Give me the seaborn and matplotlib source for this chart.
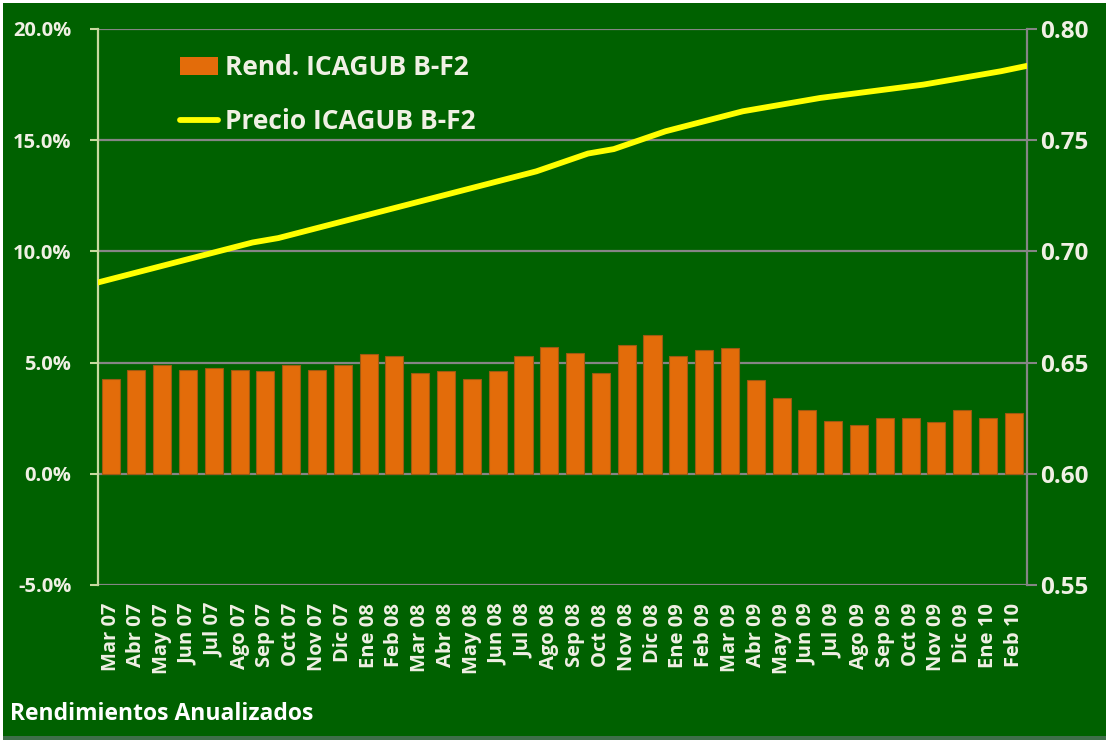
import numpy as np
import pandas as pd
import seaborn as sns
from matplotlib import pyplot as plt
from matplotlib.patches import Rectangle, Patch
from matplotlib.lines import Line2D
from matplotlib.ticker import FuncFormatter

# monthly labels and annualized returns (%)
meses = ["Mar 07", "Abr 07", "May 07", "Jun 07", "Jul 07", "Ago 07", "Sep 07", "Oct 07",
         "Nov 07", "Dic 07", "Ene 08", "Feb 08", "Mar 08", "Abr 08", "May 08", "Jun 08",
         "Jul 08", "Ago 08", "Sep 08", "Oct 08", "Nov 08", "Dic 08", "Ene 09", "Feb 09",
         "Mar 09", "Abr 09", "May 09", "Jun 09", "Jul 09", "Ago 09", "Sep 09", "Oct 09",
         "Nov 09", "Dic 09", "Ene 10", "Feb 10"]
rend = [4.28, 4.68, 4.88, 4.68, 4.76, 4.68, 4.62, 4.88, 4.68, 4.88, 5.37, 5.30,
        4.55, 4.62, 4.28, 4.62, 5.30, 5.70, 5.43, 4.55, 5.78, 6.24, 5.30, 5.57,
        5.64, 4.22, 3.41, 2.85, 2.39, 2.18, 2.52, 2.52, 2.31, 2.85, 2.52, 2.72]

# price at each month boundary (start of Mar 07 ... end of Feb 10)
precio = [0.686, 0.689, 0.692, 0.695, 0.698, 0.701, 0.704, 0.706, 0.709, 0.712,
          0.715, 0.718, 0.721, 0.724, 0.727, 0.730, 0.733, 0.736, 0.740, 0.744,
          0.746, 0.750, 0.754, 0.757, 0.760, 0.763, 0.765, 0.767, 0.769, 0.7705,
          0.772, 0.7735, 0.775, 0.777, 0.779, 0.781, 0.7834]

BG = "#006100"
TXT = "#f0f0e4"
GRID = "#858585"

sns.set_style("dark")
plt.rcParams["font.family"] = ["Open Sans", "DejaVu Sans"]
plt.rcParams["font.weight"] = "bold"

fig = plt.figure(figsize=(11.06, 7.4), dpi=100, facecolor="white")
fig.patches.append(Rectangle((3 / 1106, 4 / 740), 1, 733 / 740, transform=fig.transFigure,
                             facecolor=BG, edgecolor="none", zorder=-10))
fig.patches.append(Rectangle((3 / 1106, 0), 1, 4 / 740, transform=fig.transFigure,
                             facecolor="#3f6f4a", edgecolor="none", zorder=-10))

ax = fig.add_axes([97.7 / 1106, 1 - 585 / 740, 929 / 1106, 556 / 740])
ax.set_facecolor(BG)

df = pd.DataFrame({"mes": meses, "rend": rend})
sns.barplot(data=df, x="mes", y="rend", color="#e36c0a", saturation=1, width=0.7,
            edgecolor="#9c5a12", linewidth=0.8, ax=ax, zorder=3)

ax.set_xlim(-0.5, len(meses) - 0.5)
ax.set_ylim(-5, 20)
ax.set_yticks([-5, 0, 5, 10, 15, 20])
ax.yaxis.set_major_formatter(FuncFormatter(lambda v, p: f"{v:.1f}%"))
ax.set_xlabel("")
ax.set_ylabel("")
ax.grid(axis="y", color=GRID, linewidth=1.6)
ax.grid(axis="x", visible=False)
ax.set_axisbelow(True)
for s in ["top", "right", "bottom"]:
    ax.spines[s].set_visible(False)
ax.spines["left"].set_visible(True)
ax.spines["left"].set_color("#c8d9a0")
ax.spines["left"].set_linewidth(1.6)
ax.tick_params(axis="y", direction="out", length=6, width=1.5, color="#c8d9a0",
               labelcolor=TXT, labelsize=14.5, pad=13, left=True)
ax.tick_params(axis="x", length=0, labelcolor=TXT, labelsize=14.5, pad=13, rotation=90)
for lab in ax.get_xticklabels() + ax.get_yticklabels():
    lab.set_fontweight("bold")

# price line on secondary axis, points at month boundaries
ax2 = ax.twinx()
pos = np.arange(len(precio)) - 0.5
sns.lineplot(x=pos, y=precio, ax=ax2, color="#ffff00", linewidth=4.2, zorder=4)
ax2.set_ylim(0.55, 0.80)
ax2.set_yticks([0.55, 0.60, 0.65, 0.70, 0.75, 0.80])
ax2.yaxis.set_major_formatter(FuncFormatter(lambda v, p: f"{v:.2f}"))
ax2.set_xlim(-0.5, len(meses) - 0.5)
ax2.grid(False)
for s in ["top", "left", "bottom"]:
    ax2.spines[s].set_visible(False)
ax2.spines["right"].set_visible(True)
ax2.spines["right"].set_color(GRID)
ax2.spines["right"].set_linewidth(1.6)
ax2.tick_params(axis="y", direction="out", length=7, width=1.5, color=GRID,
                labelcolor=TXT, labelsize=17.5, pad=3, right=True)
for lab in ax2.get_yticklabels():
    lab.set_fontweight("bold")

handles = [Patch(facecolor="#e36c0a", edgecolor="none"),
           Line2D([0], [0], color="#ffff00", linewidth=4.2)]
leg = ax2.legend(handles, ["Rend. ICAGUB B-F2", "Precio ICAGUB B-F2"],
                 loc="upper left", bbox_to_anchor=(0.0886, 0.955), frameon=False,
                 borderpad=0, borderaxespad=0, labelspacing=1.02, handlelength=1.45,
                 handleheight=0.7, handletextpad=0.25,
                 prop={"weight": "bold", "size": 19})
for t in leg.get_texts():
    t.set_color(TXT)

fig.text(10 / 1106, 1 - 714 / 740, "Rendimientos Anualizados", color="white",
         fontsize=16.5, fontweight="bold", va="center", ha="left")

fig.savefig("out.png", dpi=100, facecolor=fig.get_facecolor())
